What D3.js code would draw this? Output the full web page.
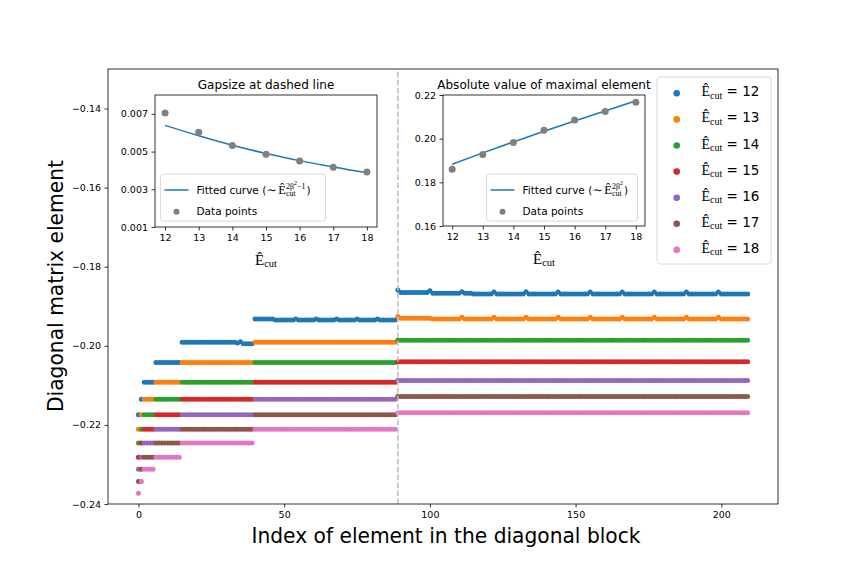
<!DOCTYPE html>
<html><head><meta charset="utf-8">
<script src="https://cdn.jsdelivr.net/npm/d3@7"></script>
<style>
html,body{margin:0;padding:0;background:#fff;}
svg{display:block;}
text{font-family:"DejaVu Sans",sans-serif;fill:#000;}
</style></head><body>
<svg id="chart" width="864" height="576"></svg>
<script>
// ------------------------- DATA -------------------------
const ecutValues = [12, 13, 14, 15, 16, 17, 18];
const seriesColors = ["#1f77b4", "#ff7f0e", "#2ca02c", "#d62728", "#9467bd", "#8c564b", "#e377c2"];
// diagonal block is made of sub-blocks (index ranges)
const segmentStart = [0, 1, 2, 6, 15, 40, 89];
const segmentEnd   = [0, 1, 5, 14, 39, 88, 209];
const dashedIndex = 89;
// plateau value of each series in each sub-block
const levelsE12 = [-0.2174, -0.2135, -0.2092, -0.2042, -0.1991, -0.1935, -0.1869];
const levelsE13 = [-0.2211, -0.2174, -0.2135, -0.2092, -0.2042, -0.1991, -0.1932];
const levelsE14 = [-0.2246, -0.2211, -0.2174, -0.2135, -0.2092, -0.2042, -0.1986];
const levelsE15 = [-0.2282, -0.2246, -0.2211, -0.2174, -0.2135, -0.2092, -0.2040];
const levelsE16 = [-0.2312, -0.2282, -0.2246, -0.2211, -0.2174, -0.2135, -0.2088];
const levelsE17 = [-0.2343, -0.2312, -0.2282, -0.2246, -0.2211, -0.2174, -0.2128];
const levelsE18 = [-0.2373, -0.2343, -0.2312, -0.2282, -0.2246, -0.2211, -0.2169];
// read-off deviations from the plateaus: [firstIndex, lastIndex, value]
const detailE12 = [
  [34, 34, -0.1993], [35, 35, -0.1990], [36, 39, -0.1995],
  [40, 46, -0.1932], [54, 54, -0.1932], [61, 61, -0.1932], [68, 68, -0.1932], [75, 75, -0.1932], [82, 82, -0.1932],
  [89, 89, -0.1859], [90, 99, -0.1865], [100, 100, -0.1861], [101, 110, -0.1867], [111, 111, -0.1863],
  [112, 114, -0.1867], [122, 122, -0.1864], [133, 133, -0.1863], [144, 144, -0.1864], [155, 155, -0.1864],
  [166, 166, -0.1864], [177, 177, -0.1864], [188, 188, -0.1864], [199, 199, -0.1864]
];
const detailE13 = [
  [89, 89, -0.1926], [90, 100, -0.1930], [111, 111, -0.1928], [122, 122, -0.1928], [133, 133, -0.1928],
  [144, 144, -0.1928], [155, 155, -0.1928], [166, 166, -0.1928], [177, 177, -0.1928], [188, 188, -0.1928], [199, 199, -0.1928]
];
const seriesLevels = [levelsE12, levelsE13, levelsE14, levelsE15, levelsE16, levelsE17, levelsE18];
const seriesDetails = [detailE12, detailE13, [], [], [], [], []];

// inset data
const gapSizes  = [0.00705, 0.00603, 0.00532, 0.00486, 0.00450, 0.00417, 0.00392];
const gapFitted = [0.00639, 0.00584, 0.00534, 0.00490, 0.00452, 0.00418, 0.00388];
const maxAbs    = [0.1860, 0.1928, 0.1983, 0.2038, 0.2086, 0.2125, 0.2167];
const maxFitted = [0.1883, 0.1935, 0.1985, 0.2034, 0.2081, 0.2127, 0.2173];

const mainXTicks = [0, 50, 100, 150, 200];
const mainYTicks = [-0.24, -0.22, -0.20, -0.18, -0.16, -0.14];
const gapYTicks = [0.001, 0.003, 0.005, 0.007];
const maxYTicks = [0.16, 0.18, 0.20, 0.22];

// ------------------------- HELPERS -------------------------
const SANS = "DejaVu Sans";
const SERIF = "Liberation Serif, DejaVu Serif, serif";
const svg = d3.select("#chart");
svg.append("rect").attr("width", 864).attr("height", 576).attr("fill", "#fff");

function runText(g, x, y, spans) {
  const t = g.append("text").attr("x", x).attr("y", y);
  spans.forEach(s => {
    t.append("tspan")
      .attr("y", y + (s.dy || 0))
      .style("font-family", s.family || SANS)
      .style("font-size", s.size + "px")
      .text(s.t);
  });
  return t.node().getComputedTextLength();
}
function richText(g, x, y, parts) {
  let cx = x;
  for (const p of parts) {
    if (p.sup || p.sub) {
      let w = 0;
      if (p.sup) w = Math.max(w, runText(g, cx, y, p.sup));
      if (p.sub) w = Math.max(w, runText(g, cx, y, p.sub));
      cx += w + (p.after || 0);
    } else {
      cx += runText(g, cx, y, [p]) + (p.after || 0);
    }
  }
  return cx - x;
}
function styleAxis(g, size) {
  g.select(".domain").remove();
  g.selectAll(".tick line").attr("stroke", "#000").attr("stroke-width", 0.8);
  g.selectAll(".tick text").style("font-family", SANS).style("font-size", size + "px").attr("fill", "#000");
  g.attr("font-family", null).attr("font-size", null);
}

// ------------------------- MAIN AXES -------------------------
const M = {l: 108, r: 778, t: 69, b: 504};
const x = d3.scaleLinear().domain([-10.45, 219.45]).range([M.l, M.r]);
const y = d3.scaleLinear().domain([-0.24, -0.13]).range([M.b, M.t]);

// build points from the run-length data
const allSeries = seriesLevels.map((lv, k) => {
  const vals = [];
  segmentStart.forEach((s0, s) => {
    for (let i = s0; i <= segmentEnd[s]; i++) vals[i] = lv[s];
  });
  seriesDetails[k].forEach(([a, b, v]) => { for (let i = a; i <= b; i++) vals[i] = v; });
  return vals.map((v, i) => ({i, v}));
});

const plot = svg.append("g");
allSeries.forEach((pts, k) => {
  plot.append("g").selectAll("circle").data(pts).join("circle")
    .attr("cx", d => x(d.i)).attr("cy", d => y(d.v)).attr("r", 2.5)
    .attr("fill", seriesColors[k]);
});
svg.append("line")
  .attr("x1", x(dashedIndex)).attr("x2", x(dashedIndex)).attr("y1", M.b).attr("y2", M.t)
  .attr("stroke", "#bdbdbd").attr("stroke-width", 1.5).attr("stroke-dasharray", "5.5,2.4");

const gx = svg.append("g").attr("transform", `translate(0,${M.b})`)
  .call(d3.axisBottom(x).tickValues(mainXTicks).tickSize(3.5).tickSizeOuter(0).tickPadding(3.5).tickFormat(d3.format("d")));
styleAxis(gx, 9.5);
const gy = svg.append("g").attr("transform", `translate(${M.l},0)`)
  .call(d3.axisLeft(y).tickValues(mainYTicks).tickSize(3.5).tickSizeOuter(0).tickPadding(3.5).tickFormat(d3.format(".2f")));
styleAxis(gy, 9.5);
svg.append("rect").attr("x", M.l).attr("y", M.t).attr("width", M.r - M.l).attr("height", M.b - M.t)
  .attr("fill", "none").attr("stroke", "#000").attr("stroke-width", 0.8);

svg.append("text").attr("x", 446).attr("y", 543).attr("text-anchor", "middle")
  .style("font-size", "22px").attr("textLength", 389).attr("lengthAdjust", "spacingAndGlyphs")
  .text("Index of element in the diagonal block");
svg.append("text").attr("transform", "translate(63,286) rotate(-90)").attr("text-anchor", "middle")
  .style("font-size", "22px").attr("textLength", 252).attr("lengthAdjust", "spacingAndGlyphs")
  .text("Diagonal matrix element");

// ------------------------- MAIN LEGEND -------------------------
const leg = svg.append("g");
leg.append("rect").attr("x", 657).attr("y", 77).attr("width", 114).attr("height", 187).attr("rx", 3)
  .attr("fill", "#fff").attr("fill-opacity", 0.8).attr("stroke", "#d0d0d0").attr("stroke-width", 0.8);
ecutValues.forEach((e, k) => {
  const ry = 93.3 + k * 26.1;
  leg.append("circle").attr("cx", 676.7).attr("cy", ry).attr("r", 3.3).attr("fill", seriesColors[k]);
  richText(leg, 701.5, ry + 3, [
    {t: "Ê", size: 14, family: SERIF},
    {sub: [{t: "cut", size: 10, family: SERIF, dy: 2.5}]},
    {t: "\u00a0= " + e, size: 13.5}
  ]);
});

// ------------------------- INSETS -------------------------
function drawInset(o) {
  const g = svg.append("g");
  const xs = d3.scaleLinear().domain([11.7, 18.3]).range([o.x0, o.x1]);
  const ys = d3.scaleLinear().domain(o.yDomain).range([o.y1, o.y0]);
  g.append("rect").attr("x", o.x0).attr("y", o.y0).attr("width", o.x1 - o.x0).attr("height", o.y1 - o.y0)
    .attr("fill", "#fff");
  const ax = g.append("g").attr("transform", `translate(0,${o.y1})`)
    .call(d3.axisBottom(xs).tickValues(ecutValues).tickSize(3.5).tickSizeOuter(0).tickPadding(3.5).tickFormat(d3.format("d")));
  styleAxis(ax, 9.5);
  const ay = g.append("g").attr("transform", `translate(${o.x0},0)`)
    .call(d3.axisLeft(ys).tickValues(o.yTicks).tickSize(3.5).tickSizeOuter(0).tickPadding(3.5).tickFormat(d3.format(o.fmt)));
  styleAxis(ay, 9.5);
  const line = d3.line().x((d, i) => xs(ecutValues[i])).y(d => ys(d)).curve(d3.curveMonotoneX);
  g.append("path").attr("d", line(o.fit)).attr("fill", "none").attr("stroke", "#1f77b4").attr("stroke-width", 1.5);
  g.append("g").selectAll("circle").data(o.data).join("circle")
    .attr("cx", (d, i) => xs(ecutValues[i])).attr("cy", d => ys(d)).attr("r", 3.5).attr("fill", "#808080");
  g.append("rect").attr("x", o.x0).attr("y", o.y0).attr("width", o.x1 - o.x0).attr("height", o.y1 - o.y0)
    .attr("fill", "none").attr("stroke", "#000").attr("stroke-width", 0.8);
  // title
  g.append("text").attr("x", (o.x0 + o.x1) / 2).attr("y", o.y0 - 6).attr("text-anchor", "middle")
    .style("font-size", "12px").text(o.title);
  // x label
  const xl = g.append("g");
  const w = richText(xl, 0, 0, [
    {t: "Ê", size: 15, family: SERIF},
    {sub: [{t: "cut", size: 10.5, family: SERIF, dy: 2.5}]}
  ]);
  xl.attr("transform", `translate(${(o.x0 + o.x1) / 2 - w / 2},${o.y1 + 37.5})`);
  // legend
  const lg = g.append("g");
  lg.append("rect").attr("x", o.lx).attr("y", 174).attr("width", o.lw).attr("height", 47).attr("rx", 3)
    .attr("fill", "#fff").attr("fill-opacity", 0.8).attr("stroke", "#d0d0d0").attr("stroke-width", 0.8);
  lg.append("line").attr("x1", o.lx + 4).attr("x2", o.lx + 28).attr("y1", 190).attr("y2", 190)
    .attr("stroke", "#1f77b4").attr("stroke-width", 1.5);
  lg.append("circle").attr("cx", o.lx + 16).attr("cy", 211.7).attr("r", 3).attr("fill", "#808080");
  richText(lg, o.lx + 36, 193.8, [
    {t: "Fitted curve (", size: 10.5, after: 0.5},
    {t: "∼", size: 12, family: SERIF, after: 1.5},
    {t: "Ê", size: 12.5, family: SERIF},
    {sup: o.sup, sub: [{t: "cut", size: 8, family: SERIF, dy: 2.6}], after: 1},
    {t: ")", size: 10.5}
  ]);
  lg.append("text").attr("x", o.lx + 36).attr("y", 215).style("font-size", "10.5px").text("Data points");
}

drawInset({
  x0: 155, x1: 377, y0: 95, y1: 227, yDomain: [0.001, 0.008], yTicks: gapYTicks, fmt: ".3f",
  data: gapSizes, fit: gapFitted, title: "Gapsize at dashed line", lx: 160.5, lw: 165,
  sup: [{t: "2β", size: 8, family: SERIF, dy: -5}, {t: "2", size: 6, family: SERIF, dy: -8.5}, {t: "−1", size: 8, family: SERIF, dy: -5}]
});
drawInset({
  x0: 443, x1: 645, y0: 95, y1: 226, yDomain: [0.16, 0.22], yTicks: maxYTicks, fmt: ".2f",
  data: maxAbs, fit: maxFitted, title: "Absolute value of maximal element", lx: 486.5, lw: 151,
  sup: [{t: "2β", size: 8, family: SERIF, dy: -5}, {t: "2", size: 6, family: SERIF, dy: -8.5}]
});
</script>
</body></html>
